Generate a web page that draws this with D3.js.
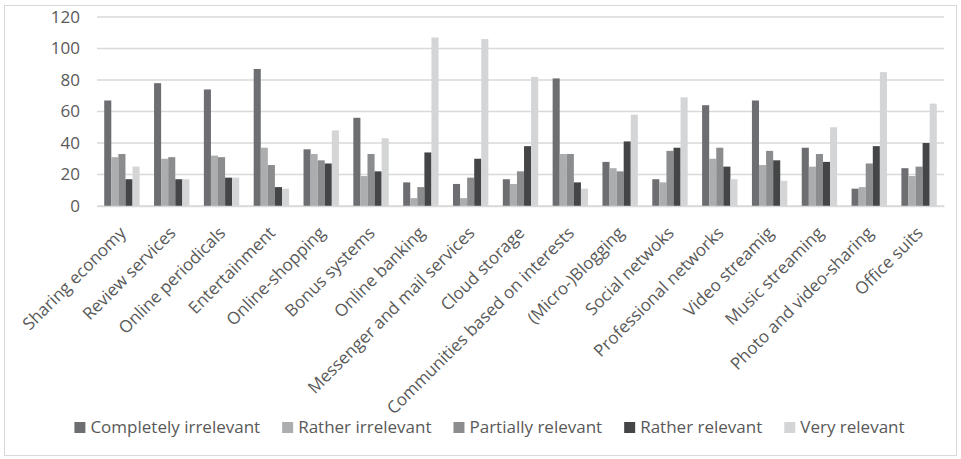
<!DOCTYPE html>
<html>
<head>
<meta charset="utf-8">
<script src="https://cdn.jsdelivr.net/npm/d3@7"></script>
<style>
  html, body { margin: 0; padding: 0; background: #ffffff; }
  svg { display: block; }
  text { font-family: "Open Sans", "Noto Sans", sans-serif; fill: #595959; }
</style>
</head>
<body>
<svg id="chart" width="961" height="459"></svg>
<script>
// Service categories along the x axis
const categories = [
  "Sharing economy", "Review services", "Online periodicals", "Entertainment",
  "Online-shopping", "Bonus systems", "Online banking", "Messenger and mail services",
  "Cloud storage", "Communities based on interests", "(Micro-)Blogging",
  "Social netwoks", "Professional networks", "Video streamig", "Music streaming",
  "Photo and video-sharing", "Office suits"
];

// Relevance levels (one bar per level in each category)
const seriesNames = [
  "Completely irrelevant", "Rather irrelevant", "Partially relevant",
  "Rather relevant", "Very relevant"
];

const completelyIrrelevant = [67, 78, 74, 87, 36, 56, 15, 14, 17, 81, 28, 17, 64, 67, 37, 11, 24];
const ratherIrrelevant     = [31, 30, 32, 37, 33, 19,  5,  5, 14, 33, 24, 15, 30, 26, 25, 12, 19];
const partiallyRelevant    = [33, 31, 31, 26, 29, 33, 12, 18, 22, 33, 22, 35, 37, 35, 33, 27, 25];
const ratherRelevant       = [17, 17, 18, 12, 27, 22, 34, 30, 38, 15, 41, 37, 25, 29, 28, 38, 40];
const veryRelevant         = [25, 17, 18, 11, 48, 43, 107, 106, 82, 11, 58, 69, 17, 16, 50, 85, 65];

const yTicks = [0, 20, 40, 60, 80, 100, 120];

const seriesValues = [completelyIrrelevant, ratherIrrelevant, partiallyRelevant, ratherRelevant, veryRelevant];
const colors = ["#6d6e71", "#acadaf", "#8b8c8e", "#444547", "#d4d5d6"];
const FONT = "'Open Sans', 'Noto Sans', sans-serif";

const svg = d3.select("#chart");
const plot = { left: 97, right: 944, top: 17, bottom: 206 };

// Outer chart frame
svg.append("rect")
  .attr("x", 4.5).attr("y", 5.5)
  .attr("width", 952).attr("height", 450)
  .attr("fill", "#ffffff")
  .attr("stroke", "#d9d9d9").attr("stroke-width", 1);

const x = d3.scaleBand()
  .domain(categories)
  .range([plot.left, plot.right])
  .paddingInner(0.29)
  .paddingOuter(0.145);

const xSeries = d3.scaleBand()
  .domain(seriesNames)
  .range([0, x.bandwidth()])
  .padding(0);

const y = d3.scaleLinear()
  .domain([0, 120])
  .range([plot.bottom, plot.top]);

// Horizontal gridlines
svg.append("g")
  .selectAll("line")
  .data(yTicks)
  .join("line")
  .attr("x1", plot.left).attr("x2", plot.right)
  .attr("y1", d => y(d)).attr("y2", d => y(d))
  .attr("stroke", "#d9d9d9")
  .attr("stroke-width", 1.5);

// Y axis labels
const yAxis = d3.axisLeft(y).tickValues(yTicks).tickSize(0).tickPadding(0);
const yG = svg.append("g")
  .attr("transform", `translate(${plot.left - 17},0)`)
  .call(yAxis);
yG.select(".domain").remove();
yG.selectAll("text")
  .attr("font-family", FONT)
  .attr("font-size", 17)
  .attr("fill", "#595959");

// Bars
const rows = categories.map((c, i) => ({
  category: c,
  values: seriesNames.map((s, k) => ({ series: s, value: seriesValues[k][i], k }))
}));

svg.append("g")
  .selectAll("g")
  .data(rows)
  .join("g")
  .attr("transform", d => `translate(${x(d.category)},0)`)
  .selectAll("rect")
  .data(d => d.values)
  .join("rect")
  .attr("x", d => xSeries(d.series))
  .attr("width", xSeries.bandwidth())
  .attr("y", d => y(d.value))
  .attr("height", d => y(0) - y(d.value))
  .attr("fill", d => colors[d.k]);

// X axis baseline and rotated category labels
const xAxis = d3.axisBottom(x).tickSize(0).tickPadding(0);
const xG = svg.append("g")
  .attr("transform", `translate(0,${plot.bottom})`)
  .call(xAxis);
xG.select(".domain")
  .attr("stroke", "#d9d9d9")
  .attr("stroke-width", 1.5);
xG.selectAll(".tick text")
  .attr("font-family", FONT)
  .attr("font-size", 17)
  .attr("fill", "#595959")
  .attr("text-anchor", "end")
  .attr("dy", null)
  .attr("y", 0)
  .attr("transform", "translate(5,28) rotate(-45)");

// Legend
const legend = svg.append("g").attr("class", "legend");
const items = legend.selectAll("g")
  .data(seriesNames)
  .join("g");
items.append("rect")
  .attr("width", 11).attr("height", 11)
  .attr("y", -11)
  .attr("fill", (d, i) => colors[i]);
items.append("text")
  .attr("x", 16)
  .attr("y", 0)
  .attr("font-family", FONT)
  .attr("font-size", 17)
  .text(d => d);

let offset = 0;
const gap = 22;
const widths = [];
items.each(function () {
  widths.push(16 + this.querySelector("text").getComputedTextLength());
});
const total = d3.sum(widths) + gap * (widths.length - 1);
const start = 489.5 - total / 2;
items.attr("transform", (d, i) => {
  const tx = start + offset;
  offset += widths[i] + gap;
  return `translate(${tx},433)`;
});
</script>
</body>
</html>
